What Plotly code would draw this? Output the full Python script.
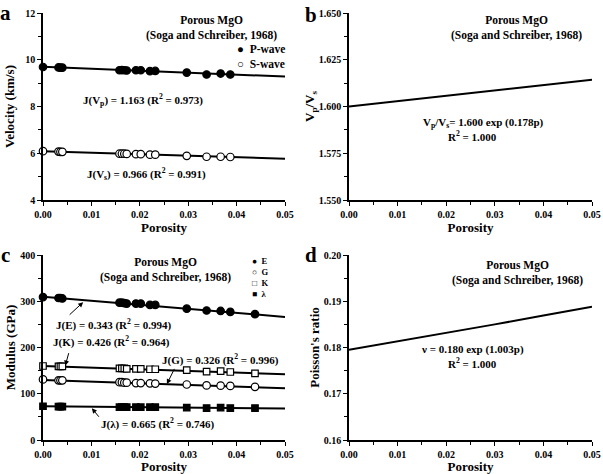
import plotly.graph_objects as go

# ---------------- data ----------------
por_a = [0.0, 0.0032, 0.0036, 0.0040, 0.0158, 0.0163, 0.0168, 0.0173, 0.0192, 0.0202,
         0.0221, 0.0232, 0.0297, 0.0338, 0.0367, 0.0387]
vp = [9.69, 9.67, 9.66, 9.66, 9.55, 9.56, 9.55, 9.54, 9.55, 9.55, 9.51, 9.52, 9.45, 9.37, 9.41, 9.37]
vs = [6.09, 6.07, 6.06, 6.06, 5.98, 5.98, 5.98, 5.97, 5.96, 5.96, 5.94, 5.94, 5.89, 5.85, 5.85, 5.84]

fit_x = [0.0, 0.05]
vp_fit = [9.70, 9.28]
vs_fit = [6.09, 5.77]

curve_x = [0.0, 0.01, 0.02, 0.03, 0.04, 0.05]
vpvs_curve = [1.6000, 1.6029, 1.6057, 1.6086, 1.6115, 1.6143]
nu_curve = [0.1795, 0.1813, 0.1831, 0.1850, 0.1869, 0.1888]

por_c = [0.0, 0.0032, 0.0036, 0.0040, 0.0158, 0.0163, 0.0168, 0.0173, 0.0192, 0.0202,
         0.0221, 0.0232, 0.0297, 0.0338, 0.0367, 0.0387, 0.0438]
mod_E = [309, 307, 307, 306, 297, 297, 296, 295, 295, 295, 292, 292, 284, 280, 279, 277, 272]
mod_G = [131, 129, 129, 129, 125, 125, 124, 124, 123, 123, 122.5, 122, 120, 118, 117.5, 117, 115]
mod_K = [160, 159, 159, 159, 155, 155, 155, 154, 154, 154, 153, 153, 151, 148, 149, 147, 144]
mod_L = [73, 72, 72, 72, 71, 71, 71, 71, 71, 71, 71, 71, 70, 69, 70, 69, 69]
E_fit = [310, 266]
G_fit = [130, 112]
K_fit = [160, 142]
L_fit = [73, 68]

# ---------------- figure ----------------
FONT = "Liberation Serif, Times New Roman, serif"
fig = go.Figure()

def mk(symbol, filled, size):
    return dict(symbol=symbol, size=size, color="black" if filled else "white",
                line=dict(color="black", width=1.2))

# panel a
fig.add_trace(go.Scatter(x=fit_x, y=vp_fit, mode="lines", line=dict(color="black", width=2),
                         xaxis="x", yaxis="y"))
fig.add_trace(go.Scatter(x=fit_x, y=vs_fit, mode="lines", line=dict(color="black", width=2),
                         xaxis="x", yaxis="y"))
fig.add_trace(go.Scatter(x=por_a, y=vp, mode="markers", marker=mk("circle", True, 7.5), name="P-wave",
                         xaxis="x", yaxis="y", cliponaxis=False))
fig.add_trace(go.Scatter(x=por_a, y=vs, mode="markers", marker=mk("circle", False, 7.5), name="S-wave",
                         xaxis="x", yaxis="y", cliponaxis=False))
# panel b
fig.add_trace(go.Scatter(x=curve_x, y=vpvs_curve, mode="lines", line=dict(color="black", width=2),
                         xaxis="x2", yaxis="y2"))
# panel c
for yy in (E_fit, G_fit, K_fit, L_fit):
    fig.add_trace(go.Scatter(x=fit_x, y=yy, mode="lines", line=dict(color="black", width=2),
                             xaxis="x3", yaxis="y3"))
fig.add_trace(go.Scatter(x=por_c, y=mod_E, mode="markers", marker=mk("circle", True, 7.5), name="E",
                         xaxis="x3", yaxis="y3", cliponaxis=False))
fig.add_trace(go.Scatter(x=por_c, y=mod_G, mode="markers", marker=mk("circle", False, 7.5), name="G",
                         xaxis="x3", yaxis="y3", cliponaxis=False))
fig.add_trace(go.Scatter(x=por_c, y=mod_K, mode="markers", marker=mk("square", False, 6.5), name="K",
                         xaxis="x3", yaxis="y3", cliponaxis=False))
fig.add_trace(go.Scatter(x=por_c, y=mod_L, mode="markers", marker=mk("square", True, 6.5), name="λ",
                         xaxis="x3", yaxis="y3", cliponaxis=False))
# panel d
fig.add_trace(go.Scatter(x=curve_x, y=nu_curve, mode="lines", line=dict(color="black", width=2),
                         xaxis="x4", yaxis="y4"))

W, H = 603, 474
def px(x):
    return x / W
def py(y):
    return 1 - y / H

dom_xl = [px(43), px(285)]
dom_xr = [px(349), px(592)]
dom_yt = [py(200), py(13)]
dom_yb = [py(440), py(255)]

tickfont = dict(family=FONT, size=10, color="black", weight="bold")
titlefont = dict(family=FONT, size=13, color="black", weight="bold")

common = dict(showline=True, linecolor="black", linewidth=1.5, ticks="outside", ticklen=4,
              tickwidth=1.2, tickcolor="black", showgrid=False, zeroline=False, automargin=False,
              tickfont=tickfont)

def xax(dom, anchor):
    return dict(domain=dom, anchor=anchor, range=[0, 0.05], dtick=0.01, tickformat=".2f",
                minor=dict(dtick=0.005, ticks="outside", ticklen=3, tickcolor="black", tickwidth=1),
                title=dict(text="Porosity", font=titlefont, standoff=0), **common)

def yax(dom, anchor, rng, dtick, minor, fmt, title, standoff):
    return dict(domain=dom, anchor=anchor, range=rng, dtick=dtick, tickformat=fmt,
                minor=dict(dtick=minor, ticks="outside", ticklen=3, tickcolor="black", tickwidth=1),
                title=dict(text=title, font=titlefont, standoff=standoff), **common)

ann = []
def txt(t, x, y, xr, yr, size=12, xanchor="center", align="center"):
    ann.append(dict(text=t, x=x, y=y, xref=xr, yref=yr, showarrow=False, xanchor=xanchor,
                    yanchor="middle", align=align,
                    font=dict(family=FONT, size=size, color="black", weight="bold")))

def arrow(x, y, ax, ay, xr, yr):
    ann.append(dict(text="", x=x, y=y, ax=ax, ay=ay, xref=xr, yref=yr, axref=xr, ayref=yr,
                    showarrow=True, arrowhead=2, arrowsize=1, arrowwidth=1, arrowcolor="black"))

SRC = "Porous MgO<br>(Soga and Schreiber, 1968)"
# panel a texts
txt(SRC, 0.0348, 11.34, "x", "y", 11.5)
txt("J(V<sub>p</sub>) = 1.163 (R<sup>2</sup> = 0.973)", 0.0207, 8.28, "x", "y", 11)
txt("J(V<sub>s</sub>) = 0.966 (R<sup>2</sup> = 0.991)", 0.0213, 5.11, "x", "y", 11)
txt("●  P-wave<br>○  S-wave", 0.0396, 10.14, "x", "y", 11.5, xanchor="left", align="left")
# panel b
txt(SRC, 0.0345, 1.6418, "x2", "y2", 11.5)
txt("V<sub>p</sub>/V<sub>s</sub>= 1.600 exp (0.178p)", 0.0276, 1.5912, "x2", "y2", 11)
txt("R<sup>2</sup> = 1.000", 0.0255, 1.5842, "x2", "y2", 11)
# panel c
txt(SRC, 0.0254, 368.5, "x3", "y3", 11.5)
txt("●  E<br>○  G<br>□  K<br>■  λ", 0.0428, 351, "x3", "y3", 8.5, xanchor="left", align="left")
txt("J(E) = 0.343 (R<sup>2</sup> = 0.994)", 0.0145, 249, "x3", "y3", 11)
txt("J(K) = 0.426 (R<sup>2</sup> = 0.964)", 0.0141, 212.5, "x3", "y3", 11)
txt("J(G) = 0.326 (R<sup>2</sup> = 0.996)", 0.0367, 175, "x3", "y3", 11)
txt("J(λ) = 0.665 (R<sup>2</sup> = 0.746)", 0.0237, 36, "x3", "y3", 11)
arrow(0.0083, 298, 0.0052, 268, "x3", "y3")
arrow(0.0046, 161, 0.0054, 191, "x3", "y3")
arrow(0.0256, 121, 0.0273, 157, "x3", "y3")
arrow(0.0101, 68.5, 0.0118, 47, "x3", "y3")
# panel d
txt(SRC, 0.0347, 0.1962, "x4", "y4", 11.5)
txt("ν = 0.180 exp (1.003p)", 0.0255, 0.1796, "x4", "y4", 11)
txt("R<sup>2</sup> = 1.000", 0.0255, 0.1766, "x4", "y4", 11)

# panel letters
for letter, xx, yy in (("a", 5, 13), ("b", 311, 15), ("c", 5, 255), ("d", 311, 255)):
    ann.append(dict(text=letter, x=px(xx), y=py(yy), xref="paper", yref="paper", showarrow=False,
                    xanchor="center", yanchor="middle",
                    font=dict(family=FONT, size=21, color="black", weight="bold")))

fig.update_layout(
    width=W, height=H, margin=dict(l=0, r=0, t=0, b=0, autoexpand=False),
    paper_bgcolor="white", plot_bgcolor="white", showlegend=False,
    font=dict(family=FONT, color="black", weight="bold"),
    xaxis=xax(dom_xl, "y"),
    yaxis=yax(dom_yt, "x", [4, 12], 2, 1, "d", "Velocity (km/s)", 8),
    xaxis2=xax(dom_xr, "y2"),
    yaxis2=yax(dom_yt, "x2", [1.55, 1.65], 0.025, 0.0125, ".3f", "V<sub>p</sub>/V<sub>s</sub>", 1),
    xaxis3=xax(dom_xl, "y3"),
    yaxis3=yax(dom_yb, "x3", [0, 400], 100, 50, "d", "Modulus (GPa)", 2),
    xaxis4=xax(dom_xr, "y4"),
    yaxis4=yax(dom_yb, "x4", [0.16, 0.20], 0.01, 0.005, ".2f", "Poisson's ratio", 1),
    annotations=ann,
)

fig.write_html("out.html", config={"displayModeBar": False},
               post_script="document.body.style.margin='0';document.body.style.overflow='hidden';")
